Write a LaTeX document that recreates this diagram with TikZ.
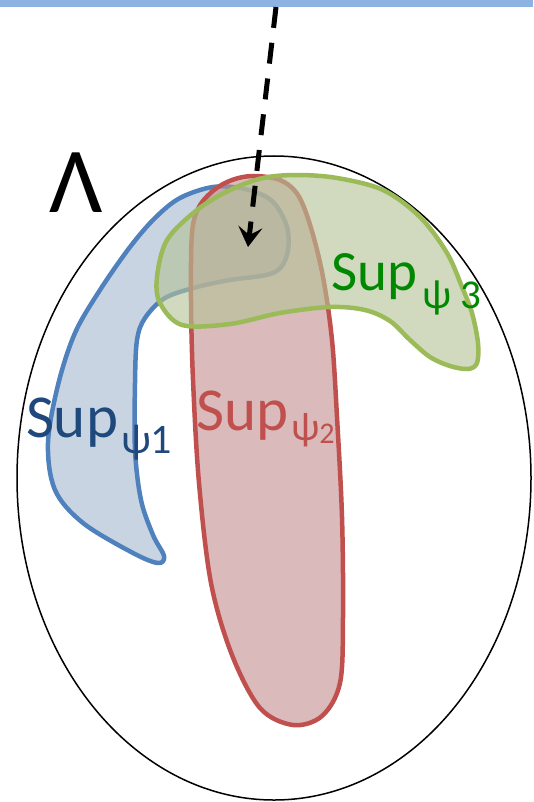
\documentclass[tikz,border=0pt]{standalone}
\usepackage{fontspec}
\setmainfont{Carlito}
\usetikzlibrary{arrows.meta}
\definecolor{barblue}{RGB}{141,179,226}
\definecolor{blueline}{RGB}{79,129,189}
\definecolor{bluefill}{RGB}{168,185,208}
\definecolor{redline}{RGB}{192,80,77}
\definecolor{redfill}{RGB}{195,143,146}
\definecolor{greenline}{RGB}{155,187,89}
\definecolor{greenfill}{RGB}{180,195,152}
\definecolor{bluetext}{RGB}{31,73,125}
\definecolor{greentext}{RGB}{0,136,0}
\tikzset{
  region/.style={line width=4.5pt, fill opacity=0.62, line join=round},
  lbl/.style={anchor=base west, inner sep=0pt, outer sep=0pt},
}
\begin{document}
\begin{tikzpicture}[x=1pt,y=-1pt]
\useasboundingbox (0,0) rectangle (533,802);
\fill[barblue] (0,0) rectangle (533,7);
\draw[line width=1.5pt] (274,478) ellipse[x radius=257, y radius=322];
% blue region
\draw[region, draw=blueline, fill=bluefill] plot[smooth cycle, tension=0.55] coordinates {
(213,187) (180,198) (155,218) (130,247) (100,290) (75,333) (58,385) (48,443) (55,490) (83,523) (133,553) (158,563) (164,556) (153,535) (141,500) (135,450) (135,383) (137,340) (145,318) (165,298) (197,287) (230,280) (273,273) (287,255) (287,227) (272,201) (245,189)};
% red region
\draw[region, draw=redline, fill=redfill] plot[smooth cycle, tension=0.55] coordinates {
(253,176) (280,180) (298,195) (311,228) (323,277) (332,340) (337,417) (342,517) (343,617) (340,683) (322,716) (293,725) (260,708) (232,655) (211,583) (199,483) (193,380) (191,300) (192,233) (199,207) (214,190) (232,180)};
% green region
\draw[region, draw=greenline, fill=greenfill] plot[smooth cycle, tension=0.55] coordinates {
(160,303) (157,277) (167,240) (197,210) (230,190) (263,178) (297,175) (337,178) (383,190) (420,217) (447,253) (462,287) (472,313) (478,343) (477,363) (468,369) (450,366) (430,357) (410,340) (390,321) (365,310) (330,307) (280,313) (230,324) (182,325)};
% arrow
\coordinate (start) at (276,7);
\coordinate (tip) at (248,247);
\draw[line width=5pt, dash pattern=on 21pt off 15pt, -{Stealth[length=20pt, width=24pt, inset=8pt]}] (start) -- (tip);
% labels
\node[lbl] (lam) at (49,213) {\fontsize{93}{93}\selectfont Λ};
\node[lbl, text=greentext] (s3) at (331,290) {\fontsize{57}{57}\selectfont Sup\hspace{5pt}\raisebox{-18pt}{\fontsize{41}{41}\selectfont ψ\hspace{9pt}3}};
\node[lbl, text=bluetext] (s1) at (26,437) {\fontsize{61}{61}\selectfont Sup\hspace{3pt}\raisebox{-16pt}{\fontsize{42}{42}\selectfont ψ1}};
\node[lbl, text=redline] (s2) at (196,430) {\fontsize{61}{61}\selectfont Sup\hspace{3pt}\raisebox{-10pt}{\fontsize{40}{40}\selectfont ψ\raisebox{-3pt}{\fontsize{30}{30}\selectfont 2}}};
\end{tikzpicture}
\end{document}
